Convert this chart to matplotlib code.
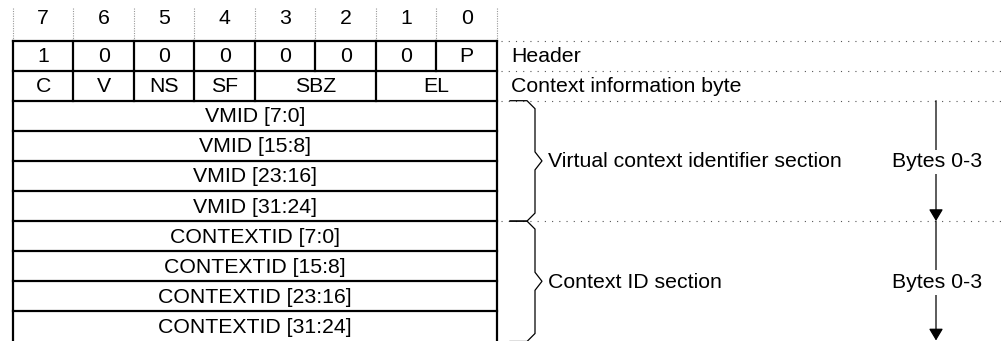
"""Packet layout diagram: header, context information byte, VMID and CONTEXTID sections."""

import matplotlib

matplotlib.use("Agg")
import matplotlib.pyplot as plt

plt.rcParams["font.family"] = ["Liberation Sans", "DejaVu Sans"]

# bit numbers over the columns, MSB first
BIT_LABELS = ["7", "6", "5", "4", "3", "2", "1", "0"]

# (field text, width in bits) for the two bit-level rows
HEADER_FIELDS = [("1", 1), ("0", 1), ("0", 1), ("0", 1), ("0", 1), ("0", 1), ("0", 1), ("P", 1)]
CONTEXT_FIELDS = [("C", 1), ("V", 1), ("NS", 1), ("SF", 1), ("SBZ", 2), ("EL", 2)]
ROW_NOTES = ["Header", "Context information byte"]

# full-byte rows
VMID_ROWS = ["VMID [7:0]", "VMID [15:8]", "VMID [23:16]", "VMID [31:24]"]
CONTEXTID_ROWS = ["CONTEXTID [7:0]", "CONTEXTID [15:8]", "CONTEXTID [23:16]", "CONTEXTID [31:24]"]

SECTION_NAMES = ["Virtual context identifier section", "Context ID section"]
SECTION_BYTES = ["Bytes 0-3", "Bytes 0-3"]

# layout, in pixels
W, H = 1002, 341
X0, COL_W = 13, 60.5
Y0, ROW_H = 40.5, 30.1
FS = 15.3
LW_TABLE = 1.6
ARROW_X = 936

fig = plt.figure(figsize=(W / 100, H / 100), dpi=100)
ax = fig.add_axes([0, 0, 1, 1])
ax.set_xlim(0, W)
ax.set_ylim(H, 0)
ax.axis("off")

x_right = X0 + 8 * COL_W
rows = [HEADER_FIELDS, CONTEXT_FIELDS] + [[(t, 8)] for t in VMID_ROWS + CONTEXTID_ROWS]

# bit numbers and the dotted column guides above the table
for i, b in enumerate(BIT_LABELS):
    ax.text(X0 + (i + 0.5) * COL_W, 18, b, ha="center", va="center", fontsize=FS)
for i in range(9):
    ax.plot([X0 + i * COL_W] * 2, [8, Y0 - 2], color="#999999", lw=0.8,
            ls=(0, (1, 1.2)))

# table body
for r, fields in enumerate(rows):
    top = Y0 + r * ROW_H
    ax.plot([X0, x_right], [top, top], color="black", lw=LW_TABLE, solid_capstyle="projecting")
    col = 0
    for text, span in fields:
        ax.text(X0 + (col + span / 2) * COL_W, top + ROW_H / 2 + 1, text,
                ha="center", va="center", fontsize=FS)
        col += span
        if col < 8:
            ax.plot([X0 + col * COL_W] * 2, [top, top + ROW_H], color="black", lw=LW_TABLE)
bottom = Y0 + len(rows) * ROW_H
ax.plot([X0, X0], [Y0, bottom], color="black", lw=LW_TABLE)
ax.plot([x_right, x_right], [Y0, bottom], color="black", lw=LW_TABLE)

# dotted row guides to the right
dots = dict(color="#555555", lw=0.8, ls=(0, (1, 5.5)))
for k in [0, 1, 2, 2 + len(VMID_ROWS)]:
    y = Y0 + k * ROW_H
    ax.plot([x_right + 4, W], [y, y], **dots)

for r, note in enumerate(ROW_NOTES):
    ax.text(511, Y0 + (r + 0.5) * ROW_H + 1, note, ha="left", va="center", fontsize=FS)


def brace(ya, yb):
    ym = (ya + yb) / 2
    xs = [510, 527, 535, 535, 542, 535, 535, 527, 510]
    ys = [ya, ya, ya + 8, ym - 9, ym, ym + 9, yb - 8, yb, yb]
    ax.plot(xs, ys, color="black", lw=0.9, solid_joinstyle="miter")


# sections: brace, name, byte-range arrow
start = 2
for name, nbytes, n in zip(SECTION_NAMES, SECTION_BYTES, [len(VMID_ROWS), len(CONTEXTID_ROWS)]):
    ya = Y0 + start * ROW_H
    yb = Y0 + (start + n) * ROW_H
    ym = (ya + yb) / 2
    brace(ya, yb)
    ax.text(548, ym + 1, name, ha="left", va="center", fontsize=FS)
    ax.annotate("", xy=(ARROW_X, min(yb, H - 0.5)), xytext=(ARROW_X, ya),
                annotation_clip=False,
                arrowprops=dict(arrowstyle="-|>,head_length=0.72,head_width=0.43",
                                mutation_scale=10, color="black", lw=0.9,
                                shrinkA=0, shrinkB=0))
    ax.text(ARROW_X + 1, ym + 1, nbytes, ha="center", va="center", fontsize=FS,
            bbox=dict(facecolor="white", edgecolor="none", pad=2))
    start += n

fig.savefig("out.png", dpi=100)
